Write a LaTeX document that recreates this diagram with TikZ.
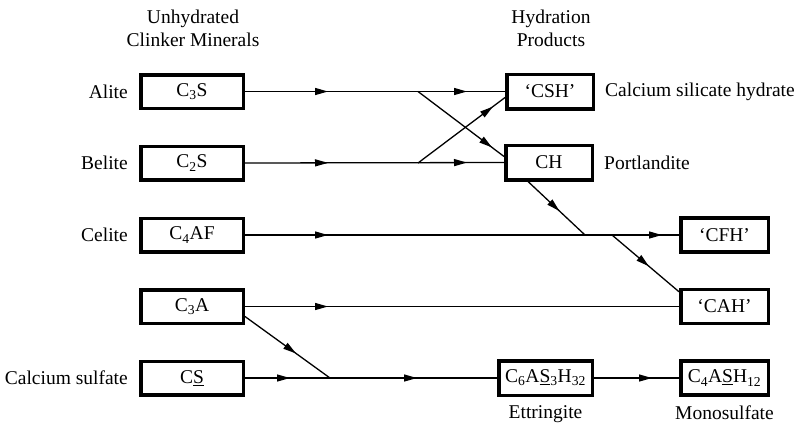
\documentclass[tikz,border=0pt]{standalone}
\usepackage{fontspec}
\setmainfont{Liberation Serif}
\usetikzlibrary{arrows.meta, positioning, decorations.markings}

\begin{document}
\begin{tikzpicture}[
  x=1pt, y=-1pt,
  font=\fontsize{19.5}{23}\selectfont,
  box/.style={draw, line width=3.5pt, inner sep=2pt, align=center},
  lbox/.style={box, minimum width=102.5pt, minimum height=33.5pt},
  mbox/.style={box, minimum width=86.5pt, minimum height=34.5pt},
  rbox/.style={box, minimum width=87.5pt, minimum height=34pt},
  lbl/.style={inner sep=2pt},
  conn/.style={line width=1.3pt},
  midtip/.style={postaction={decorate, decoration={markings,
      mark=at position #1 with {\arrow{Triangle[length=13pt, width=7pt]}}}}},
]
\useasboundingbox (0,0) rectangle (799,424);

% Column headings
\node[align=center] (unhyd) at (193,28) {Unhydrated\\Clinker Minerals};
\node[align=center] (hydprod) at (551,28) {Hydration\\Products};

% Clinker minerals
\node[lbox] (c3s) at (192,91.5) {C\textsubscript{3}S};
\node[lbox] (c2s) at (192,163) {C\textsubscript{2}S};
\node[lbox] (c4af) at (192,235) {C\textsubscript{4}AF};
\node[lbox] (c3a) at (192,306.5) {C\textsubscript{3}A};
\node[lbox] (cs) at (192,378) {C\underline{S}};

\node[lbl, left=9pt of c3s] (alite) {Alite};
\node[lbl, left=9pt of c2s] (belite) {Belite};
\node[lbl, left=9pt of c4af] (celite) {Celite};
\node[lbl, left=9pt of cs] (calsulf) {Calcium sulfate};

% Hydration products
\node[mbox] (csh) at (550,91.5) {`CSH'};
\node[mbox] (ch) at (549,162.5) {CH};
\node[mbox, minimum width=93.5pt] (ett) at (545.5,378)
  {C\textsubscript{6}A\underline{S}\textsubscript{3}H\textsubscript{32}};
\node[rbox] (cfh) at (724.5,235) {`CFH'};
\node[rbox] (cah) at (724.5,306.5) {`CAH'};
\node[rbox] (mono) at (724.5,378) {C\textsubscript{4}A\underline{S}H\textsubscript{12}};

\node[lbl, right=8pt of csh] (cshlbl) {Calcium silicate hydrate};
\node[lbl, right=8pt of ch] (chlbl) {Portlandite};
\node[below=5pt of ett] (ettlbl) {Ettringite};
\node[below=5pt of mono] (monolbl) {Monosulfate};

% Junctions
\coordinate (j1) at (418,91.5);
\coordinate (j2) at (418,163);
\coordinate (j3) at (585,235);
\coordinate (j4) at (612,235);
\coordinate (j5) at (330,378);

% Reactions
\draw[conn, midtip=83pt, midtip=222pt] (c3s.east) -- (csh.west);
\draw[conn, midtip=0.86] (j1) -- ([yshift=6pt]ch.west);
\draw[conn, midtip=83pt, midtip=222pt] (c2s.east) -- (ch.west);
\draw[conn, midtip=0.86] (j2) -- ([yshift=-6pt]csh.west);
\draw[conn, midtip=83pt, midtip=417pt] (c4af.east) -- (cfh.west);
\draw[conn, midtip=0.55] ([xshift=24pt]ch.south west) -- (j3);
\draw[conn, midtip=0.55] (j4) -- ([yshift=-4pt]cah.north west);
\draw[conn, midtip=83pt] (c3a.east) -- (cah.west);
\draw[conn, midtip=0.6] ([yshift=-10pt]c3a.east) -- (j5);
\draw[conn, midtip=45pt, midtip=172pt] (cs.east) -- (ett.west);
\draw[conn, midtip=58pt] (ett.east) -- (mono.west);
\end{tikzpicture}
\end{document}
